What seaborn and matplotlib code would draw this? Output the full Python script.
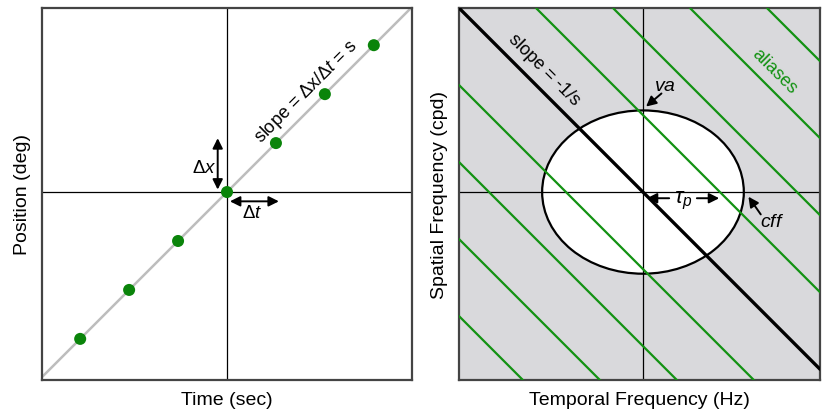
import matplotlib
matplotlib.use("Agg")
import matplotlib.pyplot as plt
from matplotlib.patches import Ellipse
import seaborn as sns
import pandas as pd

sns.set_theme(style="white")
plt.rcParams["font.family"] = ["Liberation Sans", "DejaVu Sans"]
plt.rcParams["mathtext.fontset"] = "custom"
plt.rcParams["mathtext.it"] = "Liberation Sans:italic"
plt.rcParams["mathtext.rm"] = "Liberation Sans"
plt.rcParams["text.color"] = "black"
plt.rcParams["axes.labelcolor"] = "black"

# ---- data ----
dot_time = [-3, -2, -1, 0, 1, 2, 3]
dot_position = [-3, -2, -1, 0, 1, 2, 3]
speed = 1.0
alias_offsets = [-4, -3, -2, -1, 1, 2, 3, 4]
window_tf = 1.31   # cff (temporal half-width of window)
window_sf = 1.06   # va (spatial half-height of window)

left_xlabel = "Time (sec)"
left_ylabel = "Position (deg)"
right_xlabel = "Temporal Frequency (Hz)"
right_ylabel = "Spatial Frequency (cpd)"

GREEN = "#139213"
DOT = "#0a840a"
SPINE = "#444444"
BG = "#d9d9dc"

fig = plt.figure(figsize=(8.22, 4.14), dpi=100)
axL = fig.add_axes([0.0511, 0.0797, 0.4501, 0.8986])
axR = fig.add_axes([0.5584, 0.0797, 0.4392, 0.8986])

# ---- left panel ----
axL.set_xlim(-3.78, 3.78)
axL.set_ylim(-3.84, 3.76)
axL.axhline(0, color="black", lw=0.9, zorder=1)
axL.axvline(0, color="black", lw=0.9, zorder=1)
axL.axline((0, 0), slope=speed, color="#bdbdbd", lw=1.8, zorder=2)
df = pd.DataFrame({"t": dot_time, "x": dot_position})
sns.scatterplot(data=df, x="t", y="x", ax=axL, color=DOT, s=75,
                edgecolor="none", zorder=3, legend=False)
axL.set_xlim(-3.78, 3.78)
axL.set_ylim(-3.84, 3.76)

arrowkw = dict(arrowstyle="<|-|>", color="black", lw=1.4,
               mutation_scale=15, shrinkA=0, shrinkB=0)
axL.annotate("", xy=(-0.19, 1.1), xytext=(-0.19, 0.05), arrowprops=arrowkw)
axL.annotate("", xy=(0.06, -0.19), xytext=(1.06, -0.19), arrowprops=arrowkw)
axL.text(-0.47, 0.5, r"$\Delta\mathit{x}$", fontsize=13.5, ha="center", va="center")
axL.text(0.52, -0.42, r"$\Delta\mathit{t}$", fontsize=13.5, ha="center", va="center")
axL.text(1.62, 2.06, r"slope = $\Delta$x/$\Delta\mathit{t}$ = s", fontsize=13,
         rotation=45, ha="center", va="center", rotation_mode="anchor")

# ---- right panel ----
axR.set_facecolor(BG)
axR.set_xlim(-2.39, 2.30)
axR.set_ylim(-2.44, 2.39)
axR.add_patch(Ellipse((0, 0), 2 * window_tf, 2 * window_sf, facecolor="white",
                      edgecolor="black", lw=1.6, zorder=1))
axR.axhline(0, color="black", lw=0.9, zorder=2)
axR.axvline(0, color="black", lw=0.9, zorder=2)
for k in alias_offsets:
    axR.axline((k, 0), slope=-1.0 / speed, color=GREEN, lw=1.6, zorder=3)
axR.axline((0, 0), slope=-1.0 / speed, color="black", lw=2.4, zorder=4)

axR.text(-1.28, 1.6, "slope = -1/s", fontsize=13, rotation=-45,
         ha="center", va="center", rotation_mode="anchor")
axR.text(1.7, 1.58, "aliases", fontsize=13, rotation=-45, color=GREEN,
         ha="center", va="center", rotation_mode="anchor")

headkw = dict(arrowstyle="-|>", color="black", lw=1.4, mutation_scale=15,
              shrinkA=0, shrinkB=0)
axR.annotate("", xy=(0.04, 1.11), xytext=(0.24, 1.28), arrowprops=headkw)
axR.text(0.28, 1.39, r"$\mathit{va}$", fontsize=14, ha="center", va="center")
axR.annotate("", xy=(1.37, -0.06), xytext=(1.53, -0.29), arrowprops=headkw)
axR.text(1.68, -0.38, r"$\mathit{cff}$", fontsize=14, ha="center", va="center")
axR.annotate("", xy=(0.05, -0.08), xytext=(0.34, -0.08), arrowprops=headkw)
axR.annotate("", xy=(0.99, -0.08), xytext=(0.70, -0.08), arrowprops=headkw)
axR.text(0.52, -0.1, r"$\tau_p$", fontsize=16, ha="center", va="center")

for ax, xl, yl in ((axL, left_xlabel, left_ylabel), (axR, right_xlabel, right_ylabel)):
    for s in ax.spines.values():
        s.set_color(SPINE)
        s.set_linewidth(1.6)
    ax.set_xticks([])
    ax.set_yticks([])
    ax.set_xlabel(xl, fontsize=14, labelpad=8, visible=True)
    ax.set_ylabel(yl, fontsize=14, labelpad=8, visible=True)

fig.savefig("out.png", dpi=100)
